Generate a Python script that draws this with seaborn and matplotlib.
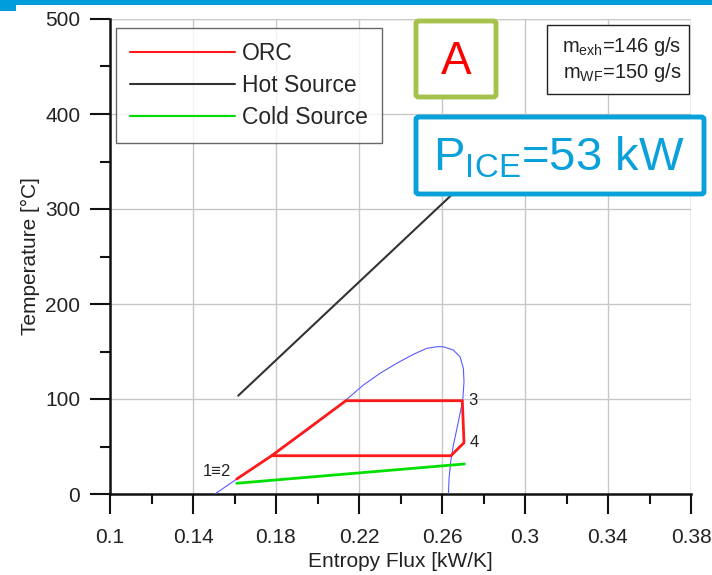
import numpy as np
import pandas as pd
import matplotlib
matplotlib.use("Agg")
import matplotlib.pyplot as plt
import seaborn as sns
from matplotlib.patches import Rectangle, FancyBboxPatch
from matplotlib.ticker import MultipleLocator

# ---- data ----
orc_s = [0.1611, 0.1779, 0.2137, 0.2698, 0.2706, 0.2643, 0.1779]
orc_T = [15.8, 40.3, 98.2, 98.2, 54.0, 40.3, 40.3]

hot_s = [0.1618, 0.272]
hot_T = [103.5, 330.0]

cold_s = [0.1611, 0.2708]
cold_T = [11.3, 31.6]

dome_s = [0.1506, 0.1611, 0.1779, 0.1960, 0.2137, 0.2221, 0.2301, 0.2382, 0.2462,
          0.2526, 0.2575, 0.2606, 0.2654, 0.2687, 0.2703, 0.2706, 0.2700,
          0.2679, 0.2655, 0.2642, 0.2634, 0.2631]
dome_T = [0.0, 15.8, 40.3, 68.5, 98.9, 114.7, 127.0, 137.6, 147.0,
          153.3, 155.0, 155.0, 151.6, 144.5, 132.3, 118.2, 98.9,
          76.1, 51.6, 34.0, 16.5, 0.0]

point_labels = ["1\u22612", "3", "4"]
point_s = [0.1585, 0.2725, 0.2735]
point_T = [24.0, 98.0, 54.0]

x_ticks = [0.1, 0.14, 0.18, 0.22, 0.26, 0.3, 0.34, 0.38]
x_tick_labels = ["0.1", "0.14", "0.18", "0.22", "0.26", "0.3", "0.34", "0.38"]
y_ticks = [0, 100, 200, 300, 400, 500]

# ---- style ----
sns.set_style("white")
plt.rcParams['font.family'] = ['Liberation Sans', 'DejaVu Sans']
plt.rcParams['mathtext.fontset'] = 'custom'
plt.rcParams['mathtext.rm'] = 'Liberation Sans'
plt.rcParams['mathtext.it'] = 'Liberation Sans'
plt.rcParams['mathtext.bf'] = 'Liberation Sans'

fig = plt.figure(figsize=(7.12, 5.75), dpi=100)
ax = fig.add_axes([110/712, 81/575, (691-110)/712, (494-19)/575])

df_orc = pd.DataFrame({"s": orc_s, "T": orc_T})
df_hot = pd.DataFrame({"s": hot_s, "T": hot_T})
df_cold = pd.DataFrame({"s": cold_s, "T": cold_T})
df_dome = pd.DataFrame({"s": dome_s, "T": dome_T})

sns.lineplot(data=df_dome, x="s", y="T", sort=False, estimator=None, ax=ax,
             color="#5a5aff", lw=0.8, zorder=3)
sns.lineplot(data=df_orc, x="s", y="T", sort=False, estimator=None, ax=ax,
             color="#ff1a1a", lw=2.0, label="ORC", zorder=4)
sns.lineplot(data=df_hot, x="s", y="T", sort=False, estimator=None, ax=ax,
             color="#333333", lw=1.5, label="Hot Source", zorder=4)
sns.lineplot(data=df_cold, x="s", y="T", sort=False, estimator=None, ax=ax,
             color="#00e000", lw=2.0, label="Cold Source", zorder=4)

for lab, s, T in zip(point_labels, point_s, point_T):
    ha = "right" if lab.startswith("1") else "left"
    ax.text(s, T, lab, fontsize=12, ha=ha, va="center", color="#222222", zorder=5)

ax.set_xlim(0.1, 0.38)
ax.set_ylim(0, 500)
ax.set_xticks(x_ticks)
ax.set_xticklabels(x_tick_labels)
ax.set_yticks(y_ticks)
ax.xaxis.set_minor_locator(MultipleLocator(0.02))
ax.yaxis.set_minor_locator(MultipleLocator(50))
ax.tick_params(axis="both", which="major", direction="out", length=14.4, width=1.5,
               labelsize=15, color="#111111", labelcolor="#222222")
ax.tick_params(axis="x", which="major", pad=10)
ax.tick_params(axis="y", which="major", pad=7)
ax.tick_params(axis="both", which="minor", direction="out", length=7.2, width=1.5, color="#111111")
ax.tick_params(axis="x", which="both", bottom=True)
ax.tick_params(axis="y", which="both", left=True)
ax.grid(True, which="major", color="#c8c8c8", lw=1.0)
ax.set_axisbelow(True)
for side in ["top", "right"]:
    ax.spines[side].set_visible(False)
for side in ["left", "bottom"]:
    ax.spines[side].set_color("#111111")
    ax.spines[side].set_linewidth(1.8)
ax.axhline(500, color="#c8c8c8", lw=1.0, zorder=0)
ax.axvline(0.38, color="#c8c8c8", lw=1.0, zorder=0)

ax.set_xlabel("Entropy Flux [kW/K]", fontsize=15, color="#222222", labelpad=4)
ax.set_ylabel("Temperature [°C]", fontsize=15, color="#222222", labelpad=4)

leg = ax.legend(loc="upper left", bbox_to_anchor=(116/712, 1-28/575), bbox_transform=fig.transFigure,
                fontsize=16.5, frameon=True, fancybox=False, handlelength=4.6, handletextpad=0.3,
                borderpad=0.6, labelspacing=0.4, borderaxespad=0)
leg.get_frame().set_edgecolor("#444444")
leg.get_frame().set_linewidth(1.0)
for line in leg.get_lines():
    line.set_linewidth(1.5)

def fx(px):
    return px / 712
def fy(py):
    return 1 - py / 575

boxA = FancyBboxPatch((fx(416), fy(97)), fx(496) - fx(416), fy(21) - fy(97),
                      boxstyle="round,pad=0,rounding_size=0.004", transform=fig.transFigure,
                      facecolor="white", edgecolor="#a5c34c", lw=3.5, zorder=10)
fig.patches.append(boxA)
fig.text(fx(456), fy(62), "A", fontsize=33, color="#ff0000", ha="center", va="center", zorder=11)

boxM = Rectangle((fx(547), fy(94)), fx(689) - fx(547), fy(25) - fy(94), transform=fig.transFigure,
                 facecolor="white", edgecolor="#222222", lw=1.0, zorder=10)
fig.patches.append(boxM)
fig.text(fx(681), fy(46), r"m$_{\mathrm{exh}}$=146 g/s", fontsize=14.5, color="#222222",
         ha="right", va="center", zorder=11)
fig.text(fx(681), fy(72), r"m$_{\mathrm{WF}}$=150 g/s", fontsize=14.5, color="#222222",
         ha="right", va="center", zorder=11)

boxP = FancyBboxPatch((fx(416), fy(194)), fx(704) - fx(416), fy(117) - fy(194),
                      boxstyle="round,pad=0,rounding_size=0.004", transform=fig.transFigure,
                      facecolor="white", edgecolor="#0aa0da", lw=3.5, zorder=10)
fig.patches.append(boxP)
fig.text(fx(559), fy(158), r"P$_{\mathrm{ICE}}$=53 kW", fontsize=34, color="#0aa0da",
         ha="center", va="center", zorder=11)

fig.patches.append(Rectangle((0, fy(5)), 1, 5/575, transform=fig.transFigure,
                             facecolor="#009ddb", edgecolor="none", zorder=12))
fig.patches.append(Rectangle((0, fy(11)), 16/712, 6/575, transform=fig.transFigure,
                             facecolor="#009ddb", edgecolor="none", zorder=12))

fig.savefig("out.png", dpi=100)
